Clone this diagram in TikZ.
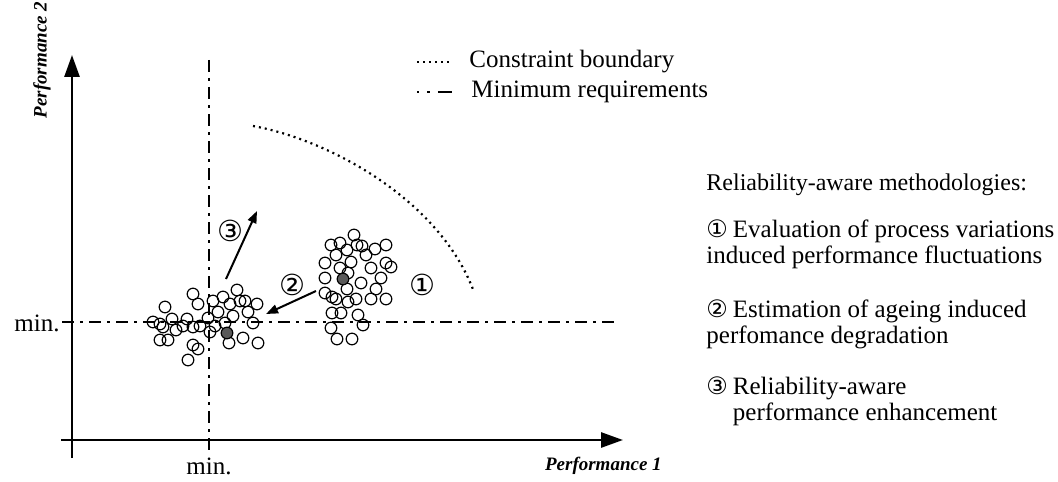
\documentclass[tikz,border=0pt]{standalone}
\usepackage{fontspec}
\setmainfont{Liberation Serif}
\newfontfamily\circfont{DejaVu Sans}
\usetikzlibrary{arrows.meta}

\newcommand{\cnum}[1]{{\circfont\fontsize{12}{12}\selectfont #1}\hspace{2.5pt}}

\tikzset{
  axisline/.style={line width=1.4pt, -{Triangle[length=11pt,width=7.5pt]}},
  minreq/.style={line width=0.6pt, dash pattern=on 6pt off 3pt on 1.5pt off 3pt},
  bound/.style={line width=1.1pt, dash pattern=on 1pt off 2pt},
  spot/.style={line width=0.6pt},
  moveto/.style={line width=1pt, -{Triangle[length=6pt,width=4.5pt]}},
  num/.style={font=\circfont\fontsize{14.5}{14.5}\selectfont, inner sep=0pt},
  txt/.style={font=\fontsize{12.5}{13}\selectfont, anchor=west, align=left, inner sep=0pt},
  lab/.style={font=\fontsize{9.5}{10}\selectfont\bfseries\itshape},
}

\begin{document}
\begin{tikzpicture}[x=0.5pt,y=-0.5pt]
  \useasboundingbox (0,0) rectangle (1058,481);

  % assi
  \coordinate (O) at (72,440);
  \draw[axisline] (61,440) -- (623,440);
  \draw[axisline] (72,458) -- (72,55);
  \node[lab, rotate=90] (ylab) at (42,60) {Performance 2};
  \node[lab, anchor=west] (xlab) at (538,466) {Performance 1};

  % requisiti minimi
  \draw[minreq] (62,322) -- (615,322);
  \draw[minreq] (209,60) -- (209,455);
  \node[txt, anchor=east] (miny) at (60,323) {min.};
  \node[txt, anchor=center] (minx) at (209,466) {min.};

  % vincolo
  \draw[bound] (253,126) .. controls (330,140) and (440,200) .. (474,292);

  % legenda
  \node[txt] (leg1) at (469,62) {Constraint boundary};
  \node[txt] (leg2) at (471,92) {Minimum requirements};
  \draw[bound] ([xshift=-26pt]leg1.west) -- ([xshift=-8.5pt]leg1.west);
  \draw[line width=1pt, dash pattern=on 1.2pt off 4pt on 1.2pt off 4pt on 9pt off 2pt]
    ([xshift=-27pt]leg2.west) -- ([xshift=-9.5pt]leg2.west);

  % campioni invecchiati
  \foreach \x/\y in {193/294, 198/304, 165/307, 213/301, 223/297, 230/304, 237/290,
      240/301, 245/301, 257/304, 248/312, 218/312, 233/316, 153/322, 160/324,
      163/327, 172/319, 176/330, 183/326, 187/319, 193/327, 200/326, 208/318,
      210/332, 215/326, 225/323, 253/323, 229/343, 243/338, 258/343, 160/340,
      168/340, 193/345, 198/349, 188/360}
    \draw[spot] (\x,\y) circle[radius=2.9pt];
  \filldraw[spot, fill=black!65] (227,333) circle[radius=2.9pt];

  % campioni iniziali
  \foreach \x/\y in {354/235, 331/245, 340/243, 357/245, 362/246, 386/245, 375/249,
      336/255, 347/250, 366/255, 351/262, 325/263, 340/268, 386/263, 391/267,
      371/268, 348/273, 325/278, 361/283, 381/278, 347/289, 376/289, 325/293,
      332/297, 336/299, 348/302, 356/299, 371/299, 386/299, 332/313, 341/313,
      358/315, 363/325, 331/328, 337/339, 352/339}
    \draw[spot] (\x,\y) circle[radius=2.9pt];
  \filldraw[spot, fill=black!65] (343,279) circle[radius=2.9pt];

  % frecce
  \coordinate (a3s) at (226,279);
  \coordinate (a3e) at (257,211);
  \coordinate (a2s) at (316,291);
  \coordinate (a2e) at (266,314);
  \draw[moveto] (a3s) -- (a3e);
  \draw[moveto] (a2s) -- (a2e);

  \node[num] (n3) at (230,231) {③};
  \node[num] (n2) at (292,285) {②};
  \node[num] (n1) at (422,285) {①};

  % metodologie
  \node[txt, font=\fontsize{12}{13}\selectfont] (hdr) at (706,185) {Reliability-aware methodologies:};
  \node[txt] (m1) at (706,244.5) {\cnum{①}Evaluation of process variations\\induced performance fluctuations};
  \node[txt] (m2) at (706,324.5) {\cnum{②}Estimation of ageing induced\\perfomance degradation};
  \node[txt] (m3) at (706,401.5) {\cnum{③}Reliability-aware\\\hphantom{\cnum{③}}performance enhancement};
\end{tikzpicture}
\end{document}
